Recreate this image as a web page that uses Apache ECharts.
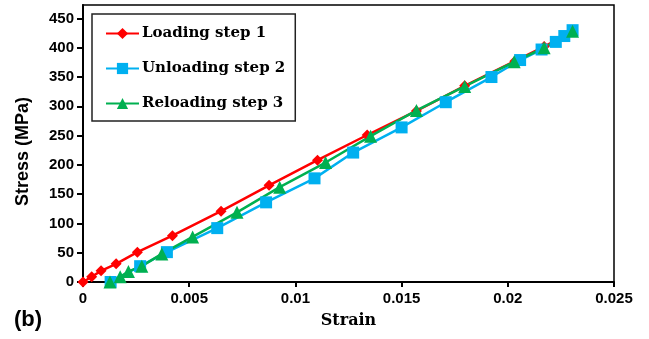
<!DOCTYPE html>
<html><head><meta charset="utf-8">
<script src="https://cdn.jsdelivr.net/npm/echarts@6/dist/echarts.min.js"></script>
<style>html,body{margin:0;padding:0;background:#fff}#c{width:649px;height:339px}</style>
</head><body><div id="c"></div>
<script>
const seriesNames = ['Loading step 1', 'Unloading step 2', 'Reloading step 3'];
const loadingStrain = [0, 0.00041, 0.00085, 0.00156, 0.00256, 0.00421, 0.0065, 0.00876, 0.01104, 0.01338, 0.0157, 0.01797, 0.02033, 0.02171, 0.02305];
const loadingStress = [0, 9, 19, 31, 51, 79, 121, 165, 208, 251, 292, 335, 377, 402, 428];
const unloadingStrain = [0.02305, 0.02266, 0.02226, 0.02159, 0.02058, 0.01923, 0.01708, 0.015, 0.01272, 0.0109, 0.00862, 0.00632, 0.00395, 0.00269, 0.0013];
const unloadingStress = [430, 420, 410, 397, 379, 350, 307, 264, 221, 177, 136, 92, 51, 27, 0];
const reloadingStrain = [0.00127, 0.00175, 0.00214, 0.00277, 0.00371, 0.00516, 0.00725, 0.00926, 0.01142, 0.01354, 0.0157, 0.01797, 0.0203, 0.02171, 0.02305];
const reloadingStress = [0, 9, 18, 27, 48, 77, 119, 162, 204, 249, 293, 334, 376, 400, 428];
const xTicks = [0, 0.005, 0.01, 0.015, 0.02, 0.025];
const yTicks = [0, 50, 100, 150, 200, 250, 300, 350, 400, 450];

const zip = (a, b) => a.map((v, i) => [v, b[i]]);
const colors = ['#ff0000', '#00b0f0', '#00b050'];
const symbols = ['diamond', 'rect', 'triangle'];
const sizes = [11, 12, 13];
const datas = [zip(loadingStrain, loadingStress), zip(unloadingStrain, unloadingStress), zip(reloadingStrain, reloadingStress)];
const serifTitle = { fontFamily: 'DejaVu Serif', fontWeight: 'bold', fontSize: 15, color: '#000' };

const chart = echarts.init(document.getElementById('c'));
chart.setOption({
  animation: false,
  backgroundColor: '#fff',
  grid: { left: 83, right: 35, top: 5, bottom: 57, show: true, borderColor: '#000', borderWidth: 1.5, containLabel: false },
  legend: {
    left: 92, top: 14, orient: 'vertical',
    padding: [12, 10, 10, 13], itemGap: 20, itemWidth: 33, itemHeight: 14,
    borderColor: '#222', borderWidth: 1.5, backgroundColor: '#fff',
    data: seriesNames,
    textStyle: Object.assign({}, serifTitle, { padding: [0, 0, 0, -2] })
  },
  xAxis: {
    type: 'value', min: 0, max: 0.025, interval: 0.005,
    name: 'Strain', nameLocation: 'middle', nameGap: 31,
    nameTextStyle: Object.assign({}, serifTitle, { fontSize: 16 }),
    axisLine: { show: true, lineStyle: { color: '#000', width: 2 } },
    axisTick: { show: true, inside: false, length: 5, lineStyle: { color: '#000', width: 2 } },
    axisLabel: { customValues: xTicks, margin: 9, fontFamily: 'Liberation Sans', fontWeight: 'bold', fontSize: 15, color: '#000',
      formatter: v => String(+v.toFixed(3)) },
    splitLine: { show: false }
  },
  yAxis: {
    type: 'value', min: 0, max: 473,
    name: 'Stress (MPa)', nameLocation: 'middle', nameGap: 51, nameRotate: 90,
    nameTextStyle: { fontFamily: 'Liberation Sans', fontWeight: 'bold', fontSize: 18, color: '#000', padding: [0, 16, 0, 0] },
    axisLine: { show: true, lineStyle: { color: '#000', width: 2 } },
    axisTick: { show: true, customValues: yTicks, inside: false, length: 6, lineStyle: { color: '#000', width: 2 } },
    axisLabel: { customValues: yTicks, margin: 9, fontFamily: 'Liberation Sans', fontWeight: 'bold', fontSize: 15, color: '#000' },
    splitLine: { show: false }
  },
  series: seriesNames.map((n, i) => ({
    name: n, type: 'line', data: datas[i],
    symbol: symbols[i], symbolSize: sizes[i], showAllSymbol: true,
    itemStyle: { color: colors[i] },
    lineStyle: { color: colors[i], width: 2.5 }
  })),
  graphic: [{
    type: 'text', left: 14, top: 309,
    style: { text: '(b)', font: 'bold 22px "Liberation Sans"', fill: '#000' }
  }]
});
</script></body></html>
